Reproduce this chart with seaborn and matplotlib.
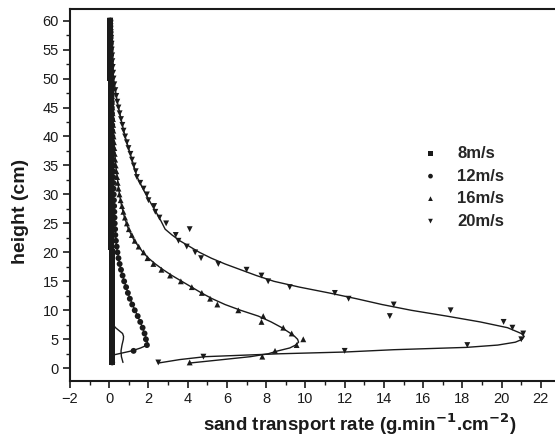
import numpy as np
import pandas as pd
import seaborn as sns
import matplotlib.pyplot as plt
from matplotlib.ticker import MultipleLocator

# measured points, one per cm of height
heights = [1, 2, 3, 4, 5, 6, 7, 8, 9, 10, 11, 12, 13, 14, 15, 16, 17, 18, 19, 20,
           21, 22, 23, 24, 25, 26, 27, 28, 29, 30, 31, 32, 33, 34, 35, 36, 37, 38, 39, 40,
           41, 42, 43, 44, 45, 46, 47, 48, 49, 50, 51, 52, 53, 54, 55, 56, 57, 58, 59, 60]

rate_8 = [0.15, 0.15, 0.15, 0.15, 0.15, 0.15, 0.15, 0.14, 0.14, 0.14, 0.14, 0.13, 0.13, 0.13, 0.13,
          0.12, 0.12, 0.12, 0.12, 0.12, 0.11, 0.11, 0.11, 0.11, 0.11, 0.1, 0.1, 0.1, 0.1, 0.1,
          0.1, 0.09, 0.09, 0.09, 0.09, 0.09, 0.09, 0.08, 0.08, 0.08, 0.08, 0.08, 0.08, 0.07, 0.07,
          0.07, 0.07, 0.07, 0.07, 0.06, 0.06, 0.06, 0.06, 0.06, 0.06, 0.05, 0.05, 0.05, 0.05, 0.05]

rate_12 = [0.15, 0.14, 1.24, 1.92, 1.87, 1.8, 1.7, 1.58, 1.45, 1.3, 1.17, 1.05, 0.95, 0.86, 0.76,
           0.68, 0.6, 0.53, 0.47, 0.42, 0.38, 0.34, 0.31, 0.3, 0.28, 0.27, 0.26, 0.25, 0.24, 0.23,
           0.22, 0.21, 0.2, 0.2, 0.19, 0.18, 0.18, 0.17, 0.16, 0.16, 0.15, 0.15, 0.14, 0.14, 0.13,
           0.13, 0.12, 0.12, 0.11, 0.11, 0.1, 0.1, 0.09, 0.09, 0.08, 0.08, 0.07, 0.07, 0.06, 0.06]

rate_16 = [4.1, 7.8, 8.45, 9.55, 9.89, 9.3, 8.87, 7.76, 7.85, 6.58, 5.51, 5.14, 4.72, 4.21, 3.65,
           3.1, 2.66, 2.25, 1.95, 1.75, 1.5, 1.3, 1.15, 1.0, 0.9, 0.8, 0.72, 0.65, 0.58, 0.52,
           0.47, 0.43, 0.4, 0.36, 0.33, 0.3, 0.28, 0.26, 0.24, 0.22, 0.21, 0.2, 0.19, 0.17, 0.16,
           0.15, 0.14, 0.13, 0.12, 0.12, 0.11, 0.1, 0.1, 0.09, 0.09, 0.08, 0.07, 0.07, 0.06, 0.05]

rate_20 = [2.5, 4.8, 12.0, 18.25, 21.0, 21.1, 20.55, 20.1, 14.3, 17.4, 14.5, 12.2, 11.5, 9.2, 8.1,
           7.76, 7.0, 5.56, 4.68, 4.38, 3.95, 3.53, 3.39, 4.1, 2.9, 2.56, 2.35, 2.29, 2.0, 1.92,
           1.75, 1.58, 1.41, 1.35, 1.25, 1.16, 1.08, 0.98, 0.9, 0.81, 0.73, 0.67, 0.6, 0.53, 0.47,
           0.41, 0.36, 0.31, 0.26, 0.22, 0.2, 0.18, 0.16, 0.15, 0.13, 0.12, 0.1, 0.08, 0.07, 0.05]

# fitted curves
fit_h_8 = [1, 2, 3, 4, 5, 5.5, 6, 6.5, 7, 7.5, 8, 10, 15, 20, 30, 40, 50, 60]
fit_8 = [0.7, 0.62, 0.6, 0.65, 0.72, 0.73, 0.68, 0.5, 0.32, 0.2, 0.15, 0.13, 0.12, 0.11, 0.09, 0.08, 0.06, 0.05]

fit_h_12 = [2, 2.3, 3, 3.5, 4, 4.5, 5, 6, 7, 8, 9, 10, 12, 14, 16, 18, 20, 22, 25, 30, 40, 50, 60]
fit_12 = [0.05, 0.22, 1.15, 1.6, 1.93, 1.95, 1.9, 1.8, 1.7, 1.58, 1.45, 1.31, 1.06, 0.86, 0.68,
          0.53, 0.42, 0.34, 0.28, 0.22, 0.15, 0.1, 0.06]

fit_h_16 = [0.9, 1.5, 2, 2.5, 3, 3.5, 4, 4.5, 5, 5.5, 6, 7, 8, 9, 10, 11, 12, 13, 14, 15, 16, 17,
            18, 19, 20, 22, 24, 26, 28, 30, 35, 40, 45, 50, 55, 60]
fit_16 = [4.1, 5.8, 7.2, 8.1, 8.6, 9.2, 9.5, 9.65, 9.6, 9.45, 9.25, 8.8, 8.25, 7.6, 6.7, 5.9, 5.25,
          4.7, 4.2, 3.7, 3.2, 2.75, 2.35, 2.0, 1.72, 1.28, 0.98, 0.78, 0.63, 0.52, 0.33, 0.22, 0.16,
          0.12, 0.09, 0.06]

fit_h_20 = [0.9, 1.5, 2, 2.5, 2.8, 3.2, 3.6, 4, 4.5, 5, 5.5, 6, 7, 8, 9, 10, 11, 12, 13, 14, 15,
            16, 17, 18, 19, 20, 21, 22, 23, 24, 26, 28, 30, 33, 36, 40, 42, 46, 50, 55, 60]
fit_20 = [2.5, 3.6, 4.9, 8.7, 12.0, 14.5, 18.2, 19.8, 20.7, 21.05, 21.15, 21.0, 20.3, 18.9, 17.2,
          15.4, 13.9, 12.6, 11.2, 9.7, 8.4, 7.5, 6.7, 5.9, 5.2, 4.6, 4.1, 3.6, 3.2, 2.85, 2.55, 2.2,
          1.87, 1.42, 1.16, 0.81, 0.67, 0.41, 0.22, 0.13, 0.05]

labels = ['8m/s', '12m/s', '16m/s', '20m/s']
markers = ['s', 'o', '^', 'v']

sns.set_style("ticks")
plt.rcParams['font.family'] = ['Liberation Sans', 'DejaVu Sans']

fig = plt.figure(figsize=(5.55, 4.36), dpi=100)
ax = fig.add_axes([70/555, 55/436, 1 - 70/555, 372/436])

ink = '#1a1a1a'
rates = [rate_8, rate_12, rate_16, rate_20]
fits = [(fit_h_8, fit_8), (fit_h_12, fit_12), (fit_h_16, fit_16), (fit_h_20, fit_20)]

for lab, mk, r, (fh, fv) in zip(labels, markers, rates, fits):
    pts = pd.DataFrame({'rate': r, 'height': heights})
    sns.scatterplot(data=pts, x='rate', y='height', marker=mk, s=18, color=ink,
                    edgecolor='none', label=lab, ax=ax)
    fit = pd.DataFrame({'rate': fv, 'height': fh})
    sns.lineplot(data=fit, x='rate', y='height', sort=False, estimator=None, color=ink,
                 lw=1.0, ax=ax, legend=False)

ax.set_xlim(-2, 22.72)
ax.set_ylim(-2.2, 62)
ax.xaxis.set_major_locator(MultipleLocator(2))
ax.xaxis.set_minor_locator(MultipleLocator(1))
ax.yaxis.set_major_locator(MultipleLocator(5))
ax.yaxis.set_minor_locator(MultipleLocator(2.5))
ax.tick_params(which='major', length=5, width=1.2, color=ink, labelsize=10.5, labelcolor=ink, pad=3)
ax.tick_params(which='minor', length=3, width=1.0, color=ink)
for side in ['left', 'bottom', 'top']:
    ax.spines[side].set_linewidth(1.5)
    ax.spines[side].set_color(ink)
ax.spines['right'].set_visible(False)

ax.set_xlabel('sand transport rate (g.min$^{\\mathbf{-1}}$.cm$^{\\mathbf{-2}}$)',
              fontsize=13.5, fontweight='bold', color=ink)
ax.set_ylabel('height (cm)', fontsize=14, fontweight='bold', color=ink)
ax.xaxis.set_label_coords(0.598, -0.083)
ax.yaxis.set_label_coords(-0.085, 0.457)

leg = ax.legend(loc='upper left', bbox_to_anchor=(0.678, 0.672), frameon=False,
                prop={'weight': 'bold', 'size': 12}, handletextpad=0.6,
                labelspacing=0.45, markerscale=0.8)

fig.savefig('out.png', dpi=100)
